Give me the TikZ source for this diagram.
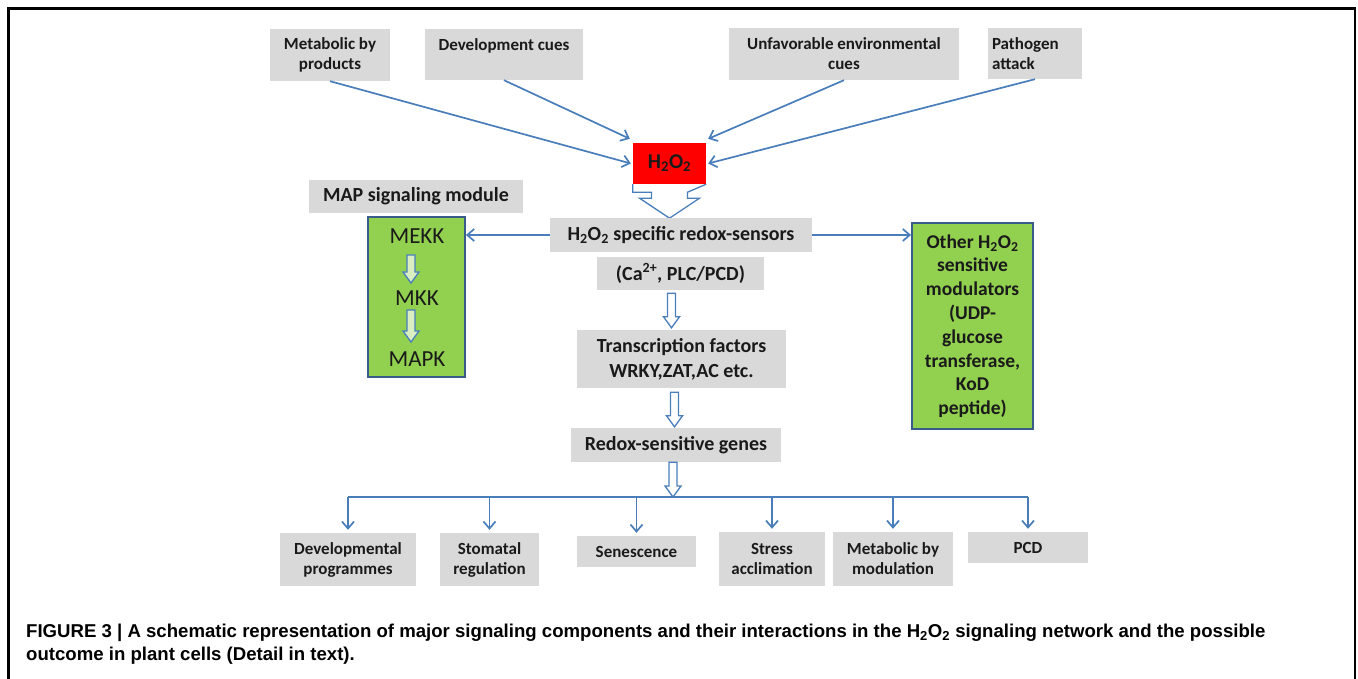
\documentclass[tikz,border=0pt]{standalone}
\usepackage{fontspec}
\setmainfont{Carlito}
\newfontfamily\capfont{Liberation Sans}
\usetikzlibrary{arrows.meta,calc}
\definecolor{boxgray}{HTML}{D9D9D9}
\definecolor{linkblue}{HTML}{4A7EBB}
\definecolor{leafgreen}{HTML}{92D050}
\definecolor{edgeblue}{HTML}{385D8A}
\definecolor{inkdark}{HTML}{1A1A1A}
\definecolor{alarmred}{HTML}{FF0000}

\begin{document}
\begin{tikzpicture}[x=1pt,y=-1pt,
		box/.style={fill=boxgray,text=inkdark,inner sep=0pt,align=center,font=\bfseries\fontsize{17}{20}\selectfont},
		midtext/.style={font=\bfseries\fontsize{20}{25}\selectfont},
		greenbox/.style={fill=leafgreen,draw=edgeblue,line width=1.8pt,inner sep=0pt,text=inkdark},
		kinase/.style={font=\fontsize{23}{23}\selectfont,text=inkdark,inner sep=0pt},
		link/.style={draw=linkblue,line width=1.7pt,-{Straight Barb[length=7pt,width=12pt]}},
		hollow/.style={draw=linkblue,line width=1.3pt,fill=white,line join=miter}]
		\useasboundingbox (0,0) rectangle (1358,679);
		\newcommand{\gbox}[7][]{\node[box,#1,minimum width={#5-#3},minimum height={#6-#4}] (#2) at ({(#3+#5)/2},{(#4+#6)/2}) {#7};}
		\newcommand{\hollowdown}[3][white]{\draw[hollow,fill=#1] let \p1=#2, \p2=#3 in
			(\x1-4pt,\y1) -- (\x1+4pt,\y1) -- (\x1+4pt,\y2+11pt) -- (\x1+8pt,\y2+11pt) -- (\x1,\y2)
			-- (\x1-8pt,\y2+11pt) -- (\x1-4pt,\y2+11pt) -- cycle;}
		
		\draw[line width=2.5pt,line join=miter] (8.5,679) -- (8.5,8.7) -- (1355,8.7) -- (1355,679);
		
		\gbox{meta}{270}{29}{390}{81}{Metabolic by\\products}
		\gbox{devel}{425}{29}{583}{80}{Development cues\\\mbox{}}
		\gbox{unfav}{729}{28}{959}{80}{Unfavorable environmental\\cues}
		\gbox[text width=86pt,align=left]{patho}{988}{28}{1082}{79}{Pathogen\\attack}
		
		\node[fill=alarmred,inner sep=0pt,minimum width=73,minimum height=41,text=inkdark,
			font=\bfseries\fontsize{21}{21}\selectfont] (h2o2) at (669.5,163.5) {H\textsubscript{2}O\textsubscript{2}};
		\draw[hollow] (h2o2.south west) -- ++(0,8) -- ($(h2o2.south)+(-18,8)$) -- ++(0,6)
			-- ($(h2o2.south)+(-30,14)$) -- ($(h2o2.south)+(0,34)$) -- ($(h2o2.south)+(30,14)$)
			-- ($(h2o2.south)+(18,14)$) -- ++(0,-6) -- (h2o2.south east);
		
		\draw[link] (meta.south) -- ($(h2o2.west)+(-2,0)$);
		\draw[link] (devel.south) -- ($(h2o2.north west)+(-3,-4)$);
		\draw[link] (unfav.south) -- ($(h2o2.north east)+(2,-4)$);
		\draw[link] (patho.south) -- ($(h2o2.east)+(2,0)$);
		
		\gbox[midtext]{mapmod}{309}{180}{523}{213}{MAP signaling module}
		\node[greenbox,minimum width=97,minimum height=160] (mapbox) at (416.5,297) {};
		\node[kinase] (mekk) at (417,236) {MEKK};
		\node[kinase] (mkk) at (417,298) {MKK};
		\node[kinase] (mapk) at (417,359) {MAPK};
		\hollowdown[leafgreen!35!white]{($(mekk)+(-6,19)$)}{($(mkk)+(-6,-15)$)}
		\hollowdown[leafgreen!35!white]{($(mkk)+(-6,12)$)}{($(mapk)+(-6,-17)$)}
		
		\gbox[midtext]{sensor}{550}{218}{812}{252}{H\textsubscript{2}O\textsubscript{2} specific redox-sensors}
		\gbox[midtext]{ca}{597}{257}{764}{290}{(Ca\textsuperscript{2+}, PLC/PCD)}
		\gbox[midtext]{trans}{577}{330}{786}{388}{Transcription factors\\WRKY,ZAT,AC etc.}
		\gbox[midtext]{redox}{571}{428}{781}{462}{Redox-sensitive genes}
		
		\node[greenbox,minimum width=121,minimum height=206,align=center,
			font=\bfseries\fontsize{19.5}{23.8}\selectfont] (other) at (972.5,326)
			{Other H\textsubscript{2}O\textsubscript{2}\\sensitive\\modulators\\(UDP-\\glucose\\transferase,\\KoD\\peptide)};
		
		\draw[link] (sensor.west) -- (sensor.west -| mapbox.east);
		\draw[link] (sensor.east) -- (sensor.east -| other.west);
		
		\coordinate (bus) at (673,497);
		\hollowdown{($(ca.south)+(-9,3)$)}{($(trans.north)+(-9,-2)$)}
		\hollowdown{($(trans.south)+(-7,4)$)}{($(redox.north)+(-7,-1)$)}
		\hollowdown{($(redox.south)+(-3,0)$)}{($(redox.south |- bus)+(-3,0)$)}
		
		\gbox{devprog}{280}{533}{416}{586}{Developmental\\programmes}
		\gbox{stomata}{440}{533}{539}{586}{Stomatal\\regulation}
		\gbox{senesc}{577}{536}{696}{567}{Senescence}
		\gbox{stress}{719}{532}{825}{586}{Stress\\acclimation}
		\gbox{metmod}{833}{532}{953}{586}{Metabolic by\\modulation}
		\gbox{pcd}{968}{532}{1088}{563}{PCD}
		
		\draw[linkblue,line width=1.7pt] (bus -| devprog.north) -- (bus -| pcd.north);
		\foreach \b in {devprog,stomata,senesc,stress,metmod,pcd}
		\draw[link,shorten >=3pt] (bus -| \b.north) -- (\b.north);
		
		\node[anchor=north west,inner sep=0pt,align=left,
			font=\capfont\bfseries\fontsize{18.6}{23}\selectfont] (caption) at (26,624)
			{FIGURE 3 | A schematic representation of major signaling components and their interactions in the H\textsubscript{2}O\textsubscript{2} signaling network and the possible\\
			outcome in plant cells (Detail in text).};
	\end{tikzpicture}
\end{document}
